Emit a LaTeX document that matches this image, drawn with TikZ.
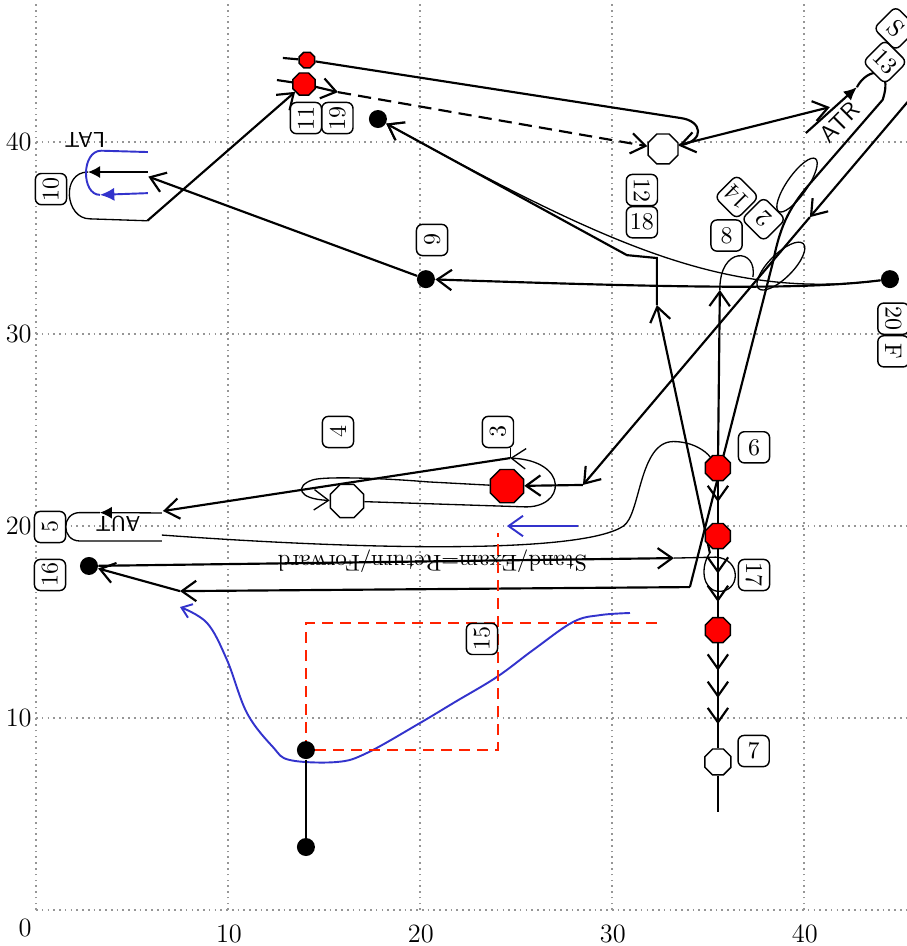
\documentclass[tikz,border=0pt]{standalone}
\usetikzlibrary{positioning,shapes.geometric,arrows.meta,decorations.markings,backgrounds}
\definecolor{gridgray}{RGB}{150,150,150}
\definecolor{penblue}{RGB}{51,51,204}
\definecolor{penred}{RGB}{255,34,0}
\tikzset{>={Straight Barb[length=6pt,width=8.5pt]}}
\tikzset{
  mainline/.style={line width=0.9pt},
  thinline/.style={line width=0.55pt},
  blueline/.style={line width=0.8pt, penblue},
  reddash/.style={line width=0.8pt, penred, dash pattern=on 4.5pt off 3pt},
  gridline/.style={gridgray, line width=0.6pt, dash pattern=on 0.7pt off 1.7pt},
  octred/.style={draw, regular polygon, regular polygon sides=8, fill=red, line width=0.6pt, inner sep=0pt, minimum size=#1},
  octwhite/.style={draw, regular polygon, regular polygon sides=8, fill=white, line width=0.6pt, inner sep=0pt, minimum size=#1},
  blackdot/.style={circle, fill=black, inner sep=0pt, minimum size=7.5pt},
  lbl/.style={draw, rounded corners=2.5pt, fill=white, line width=0.6pt, inner sep=1pt, minimum width=13pt, minimum height=13pt},
  axislbl/.style={font=\fontsize{11}{13}\selectfont, inner sep=0pt},
  chev/.style={postaction={decorate, decoration={markings, mark=at position #1 with {\arrow{>}}}}}
}

\begin{document}
\begin{tikzpicture}[x=8pt,y=8pt]
      \useasboundingbox (-1.875,-1.875) rectangle (45.36,47.40);
      \clip (-1.875,-1.875) rectangle (45.36,47.40);
      % axes
      \node[axislbl] (t0) at (-0.57,-0.94) {0};
      \foreach \v in {10,20,30,40} {
        \node[axislbl] (tx\v) at (\v+0.05,-1.25) {\v};
        \node[axislbl, anchor=east] (ty\v) at (-0.2,\v) {\v};
      }
      % octagons and dots
      \node[octred=7pt] (n1) at (14.11,44.27) {};
      \node[octred=10pt] (n2) at (13.96,43.02) {};
      \node[octred=15pt] (n3) at (24.53,22.08) {};
      \node[octwhite=15pt] (n4) at (16.20,21.30) {};
      \node[octwhite=13.5pt] (n5) at (32.66,39.64) {};
      \node[octred=11.3pt] (n6) at (35.52,23.02) {};
      \node[octred=11.3pt] (n7) at (35.52,19.48) {};
      \node[octred=11.3pt] (n8) at (35.52,14.58) {};
      \node[octwhite=11.7pt] (n9) at (35.52,7.71) {};
      \node[blackdot] (d19) at (17.81,41.20) {};
      \node[blackdot] (d9) at (20.31,32.86) {};
      \node[blackdot] (d20) at (44.48,32.86) {};
      \node[blackdot] (d16) at (2.76,17.92) {};
      \node[blackdot] (dA) at (14.06,8.33) {};
      \node[blackdot] (dB) at (14.06,3.28) {};
      % boxes
      \node[lbl, rotate=90] (l10) at (0.78,37.55) {10};
      \node[lbl, rotate=90] (l11) at (14.06,41.25) {11};
      \node[lbl, rotate=90] (l19) at (15.70,41.25) {19};
      \node[lbl, rotate=-90] (l12) at (31.56,37.50) {12};
      \node[lbl, below of=l12, node distance=13.4pt] (l18) {18};
      \node[lbl, rotate=90] (l9) at (20.63,34.90) {9};
      \node[lbl] (l8) at (35.97,35.13) {8};
      \node[lbl, rotate=135] (l14) at (36.50,37.14) {14};
      \node[lbl, rotate=135] (l2) at (37.90,35.98) {2};
      \node[lbl, rotate=-45] (l13) at (44.22,44.17) {13};
      \node[lbl, rotate=-45] (lS) at (44.78,45.92) {S};
      \node[lbl, rotate=-90] (l20) at (44.66,30.80) {20};
      \node[lbl, rotate=-90] (lF) at (44.66,29.10) {F};
      \node[lbl, rotate=90] (l4) at (15.73,24.90) {4};
      \node[lbl, rotate=90] (l3) at (24.06,24.90) {3};
      \node[lbl] (l6) at (37.40,24.10) {6};
      \node[lbl, rotate=90] (l5) at (0.73,19.95) {5};
      \node[lbl, rotate=90] (l16) at (0.73,17.45) {16};
      \node[lbl, rotate=-90] (l17) at (37.40,17.45) {17};
      \node[lbl, rotate=90] (l15) at (23.23,14.12) {15};
      \node[lbl] (l7) at (37.38,8.28) {7};
      \node[rotate=180, font=\sffamily\small] (tLAT) at (2.55,40.1) {LAT};
      \node[rotate=180, font=\sffamily\small] (tAUT) at (4.27,20.1) {AUT};
      \node[rotate=45, font=\sffamily] (tATR) at (41.85,41.05) {ATR};
      % free ends
      \coordinate (aux1) at (40.1,40.47);
      \coordinate (aux2) at (42.76,42.86);
      \coordinate (aux3) at (34.06,16.82);
      \coordinate (aux4) at (48.13,45.31);
      \coordinate (aux5) at (40.31,36.09);
      \coordinate (aux6) at (28.49,22.14);
      \coordinate (aux7) at (7.5,16.61);
      \coordinate (aux8) at (33.23,18.33);
      \coordinate (aux9) at (35.1,18.6);
      \coordinate (aux10) at (32.34,31.51);
      \coordinate (aux11) at (35.62,32.3);
      \coordinate (aux12) at (38.8,33.54);
      \coordinate (aux13) at (39.64,37.76);
      \coordinate (aux14) at (12.86,44.38);
      \coordinate (aux15) at (12.55,43.23);
      \coordinate (aux16) at (15.73,42.6);
      \coordinate (aux17) at (5.8,35.9);
      \coordinate (aux18) at (5.83,38.44);
      \coordinate (aux19) at (2.71,38.44);
      \coordinate (aux20) at (5.83,37.34);
      \coordinate (aux21) at (3.33,37.25);
      \coordinate (aux22) at (5.85,38.2);
      \coordinate (aux23) at (20.4,22.3);
      \coordinate (aux24) at (24.7,23.54);
      \coordinate (aux25) at (6.61,20.78);
      \coordinate (aux26) at (6.56,20.68);
      \coordinate (aux27) at (3.33,20.7);
      \coordinate (aux28) at (6.56,19.53);
      \coordinate (aux29) at (28.23,20.0);
      \coordinate (aux30) at (24.53,20.0);
      \coordinate (aux31) at (32.34,14.95);
      \coordinate (aux32) at (14.06,14.95);
      \coordinate (aux33) at (24.06,8.33);
      \coordinate (aux34) at (24.06,19.64);
      \coordinate (aux35) at (35.52,5.1);
      \coordinate (aux36) at (41.35,41.82);
      \begin{pgfonlayer}{background}
      \draw[gridline] (0,0) grid[step=10] (46,48);
      % top
      \draw[mainline] (aux14) -- (n1);
      \draw[mainline,->] (n1) -- (33.59,41.25) .. controls (34.7,41.1) and (34.85,40.1) .. (n5);
      \draw[mainline] (aux15) -- (n2);
      \draw[mainline,->] (n2) -- (aux16);
      \draw[mainline,dash pattern=on 5.5pt off 3pt,->] (aux16) -- (n5);
      \draw[mainline,->] (n5) -- (aux36);
      \draw[mainline,->] (aux17) -- (n2);
      % LAT and 10
      \draw[thinline,-{Latex[length=5pt,width=5pt]}] (aux18) -- (aux19);
      \draw[thinline] (aux19) .. controls (1.3,38.44) and (1.5,36.0) .. (2.81,36.0) -- (aux17);
      \draw[blueline,-{Latex[length=6pt,width=5.5pt]}] (aux20) -- (aux21);
      \draw[blueline] (aux21) .. controls (2.35,37.25) and (2.35,39.55) .. (3.4,39.55) -- (5.83,39.48);
      \draw[mainline,->] (d9) -- (aux22);
      \draw[mainline,->] (d20) .. controls (40,32.3) and (34,32.4) .. (d9);
      \draw[thinline,->] (d20) .. controls (36,31.8) and (30,34.5) .. (d19);
      % ATR
      \draw[mainline,-{Latex[length=5.5pt,width=5pt]}] (aux1) -- (aux2);
      \draw[mainline] (aux2) .. controls (43.3,43.9) and (44.7,44.0) .. (44.1,42.2) -- (40.5,38.05) .. controls (39.3,36.7) and (38.8,35.8) .. (38.4,33.8) -- (aux3);
      \draw[mainline,->] (aux3) -- (aux7);
      \draw[mainline,->] (aux7) -- (d16);
      \draw[thinline] (aux13) circle[x radius=13.4pt, y radius=4.2pt, rotate=55];
      \draw[thinline] (aux12) circle[x radius=13.2pt, y radius=5pt, rotate=45];
      \draw[mainline,->] (aux4) -- (aux5);
      \draw[mainline,->] (aux5) -- (aux6);
      \draw[mainline,->] (aux6) -- (n3);
      % Stand and 17
      \draw[mainline,->] (d16) -- node[pos=0.58, rotate=180, font=\fontsize{9.5}{11}\selectfont] {Stand/Exam=Return/Forward} (aux8);
      \draw[thinline] (aux8) -- (35.4,18.38) .. controls (36.8,18.3) and (36.7,16.5) .. (35.5,16.6) .. controls (34.7,16.7) and (34.6,17.9) .. (aux9);
      \draw[mainline,->] (aux9) -- (aux10);
      \draw[mainline,->] (aux10) -- (32.34,33.96) -- (30.78,34.11) -- (d19);
      \draw[mainline,->] (n6) -- (aux11);
      \draw[thinline] (aux11) .. controls (35.6,34.6) and (37.6,34.5) .. (37.34,32.97);
      % 3, 4, AUT
      \draw[thinline,->] (n3) -- (aux23) .. controls (18,22.5) and (15,22.6) .. (14.4,22.4) .. controls (13.5,22.1) and (13.6,21.4) .. (n4);
      \draw[thinline,->] (n4) -- (25.4,21.0) .. controls (27.6,20.9) and (27.8,23.4) .. (aux24);
      \draw[thinline] (aux24) -- (aux24 |- l3.west);
      \draw[mainline,->] (aux24) -- (aux25);
      \draw[thinline,-{Latex[length=5pt,width=5pt]}] (aux26) -- (aux27);
      \draw[thinline] (aux27) -- (2.29,20.7) .. controls (1.3,20.7) and (1.3,19.22) .. (2.29,19.22) -- (6.56,19.22);
      \draw[thinline] (aux28) .. controls (18,18.7) and (28.5,18.6) .. (30.6,20.0) .. controls (31.5,20.6) and (31.4,24.4) .. (33.2,24.4) .. controls (34.2,24.4) and (34.9,23.9) .. (n6);
      % blue and red
      \draw[blueline,->] (aux29) -- (aux30);
      \draw[blueline,-{Straight Barb[length=4pt,width=6pt]}] plot[smooth, tension=0.6] coordinates {(30.94,15.47) (29.38,15.36) (27.97,15.0) (25.89,13.54) (24.01,12.14) (21.82,10.83) (20.0,9.74) (17.24,8.18) (15.68,7.71) (13.23,7.81) (12.34,8.49) (10.99,10.26) (9.95,13.02) (8.91,14.95) (7.5,15.78)};
      \draw[reddash] (aux31) -- (aux32) -- (dA);
      \draw[reddash] (dA) -- (aux33) -- (aux34);
      \draw[mainline] (dA) -- (dB);
      % column
      \draw[mainline, chev=0.5] (n6) -- (n7);
      \draw[mainline, chev=0.36, chev=0.78] (n7) -- (n8);
      \draw[mainline, chev=0.26, chev=0.52, chev=0.77] (n8) -- (n9);
      \draw[mainline] (n9) -- (aux35);
      \end{pgfonlayer}
    \end{tikzpicture}
\end{document}
